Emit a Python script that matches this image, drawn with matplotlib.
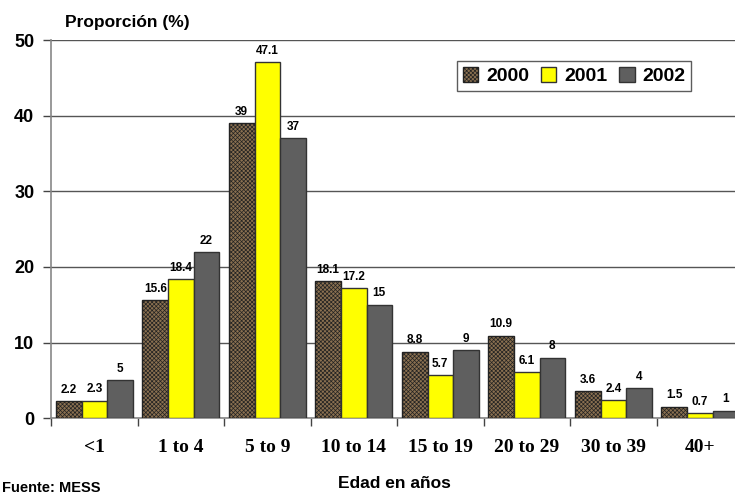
import numpy as np
import matplotlib
matplotlib.use("Agg")
import matplotlib.pyplot as plt
from matplotlib.patches import Patch

categories = ["<1", "1 to 4", "5 to 9", "10 to 14", "15 to 19", "20 to 29", "30 to 39", "40+"]
y2000 = [2.2, 15.6, 39, 18.1, 8.8, 10.9, 3.6, 1.5]
y2001 = [2.3, 18.4, 47.1, 17.2, 5.7, 6.1, 2.4, 0.7]
y2002 = [5, 22, 37, 15, 9, 8, 4, 1]
series_names = ["2000", "2001", "2002"]

plt.rcParams["hatch.linewidth"] = 0.5
plt.rcParams["hatch.color"] = "#1a1a1a"

fig = plt.figure(figsize=(7.35, 4.96), dpi=100)
ax = fig.add_axes([0.0694, 0.157, 0.9415, 0.762])

x = np.arange(len(categories))
w = 0.295
styles = [
    dict(facecolor="#8a7050", hatch="xxxxxxxx", edgecolor="#222222"),
    dict(facecolor="#ffff00", edgecolor="#333333"),
    dict(facecolor="#5f5f5f", edgecolor="#333333"),
]
for i, (vals, st) in enumerate(zip([y2000, y2001, y2002], styles)):
    pos = x + (i - 1) * w
    bars = ax.bar(pos, vals, w, linewidth=1.0, zorder=3, **st)
    for b, v in zip(bars, vals):
        ax.text(b.get_x() + b.get_width() / 2, v + 0.7, f"{v:g}",
                ha="center", va="bottom", fontsize=8.5, fontweight="bold",
                family="Liberation Sans", zorder=4)

ax.set_xlim(-0.5, len(categories) - 0.5)
ax.set_ylim(0, 50)
ax.set_yticks(range(0, 51, 10))
ax.yaxis.grid(True, color="#555555", linewidth=1.0, zorder=0)
ax.set_axisbelow(True)
for s in ["top", "right"]:
    ax.spines[s].set_visible(False)
ax.spines["left"].set_color("#888888")
ax.spines["bottom"].set_color("#888888")
ax.spines["left"].set_linewidth(1.2)
ax.spines["bottom"].set_linewidth(1.2)

ax.set_xticks(x)
ax.set_xticklabels(categories, family="Liberation Serif", fontweight="bold", fontsize=14)
ax.tick_params(axis="x", length=0, pad=15)
ax.set_xticks(np.arange(-0.5, len(categories)), minor=True)
ax.tick_params(axis="x", which="minor", length=6, width=1.0, color="#444444", direction="out")
ax.tick_params(axis="y", length=6, width=1.0, color="#444444", labelsize=13, pad=6)
for lab in ax.get_yticklabels():
    lab.set_fontweight("bold")
    lab.set_family("Liberation Sans")

fig.text(0.089, 0.955, "Proporción (%)", fontsize=12.5, fontweight="bold",
         family="Liberation Sans", va="center", ha="left")
fig.text(0.537, 0.025, "Edad en años", fontsize=12.5, fontweight="bold",
         family="Liberation Sans", va="center", ha="center")
fig.text(0.003, 0.016, "Fuente: MESS", fontsize=10.5, fontweight="bold",
         family="Liberation Sans", va="center", ha="left")

handles = [Patch(**st, linewidth=1.0) for st in styles]
leg = ax.legend(handles, series_names, loc="upper right", bbox_to_anchor=(0.925, 0.944),
                borderaxespad=0, ncol=3, frameon=True, fancybox=False, edgecolor="#333333",
                prop={"family": "Liberation Sans", "weight": "bold", "size": 14},
                handlelength=0.8, handleheight=0.8, handletextpad=0.4,
                columnspacing=0.6, borderpad=0.3)
leg.get_frame().set_linewidth(1.0)

fig.savefig("out.png", dpi=100)
